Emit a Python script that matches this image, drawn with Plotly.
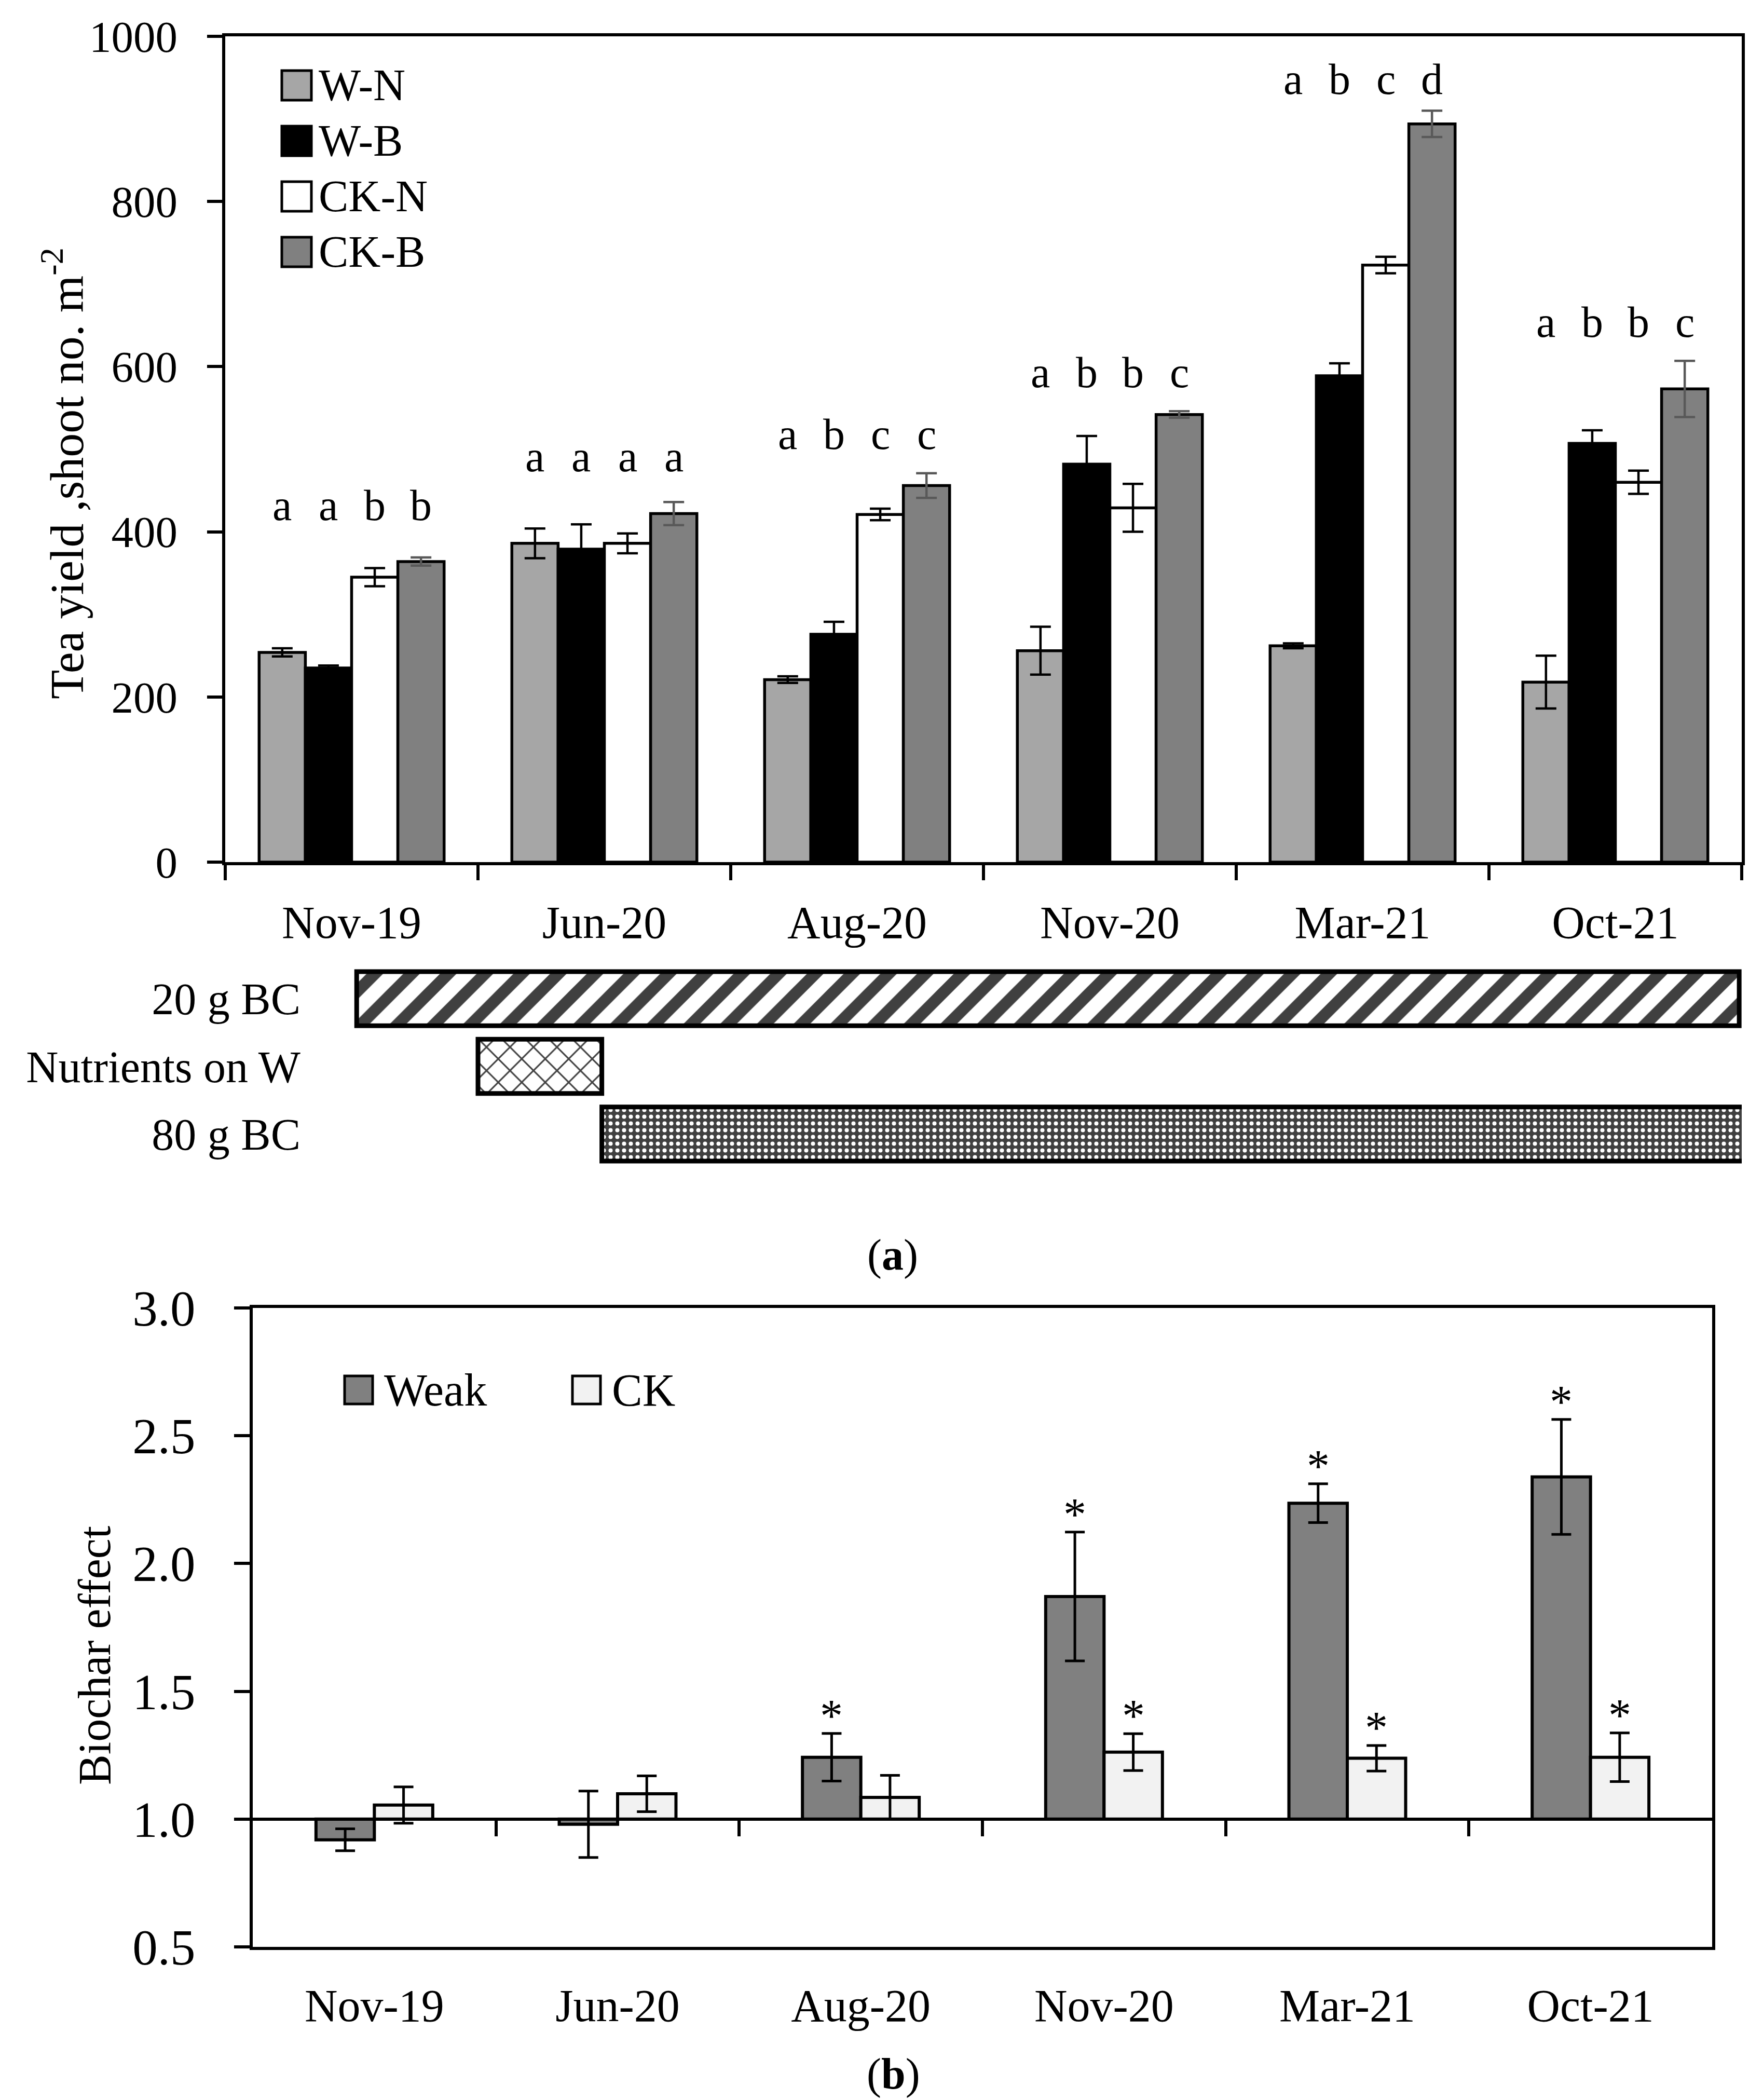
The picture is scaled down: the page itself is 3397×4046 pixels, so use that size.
import plotly.graph_objects as go

W, H = 3397, 4046
FONT = "Liberation Serif"

# ---- data, panel (a) ----
dates = ["Nov-19", "Jun-20", "Aug-20", "Nov-20", "Mar-21", "Oct-21"]
series_a = ["W-N", "W-B", "CK-N", "CK-B"]
wn = [254, 386, 221, 256, 262, 218]
wn_err = [5, 18, 4, 29, 3, 32]
wb = [235, 379, 276, 482, 589, 507]
wb_err = [3, 30, 15, 34, 15, 16]
ckn = [345, 386, 421, 429, 723, 460]
ckn_err = [11, 12, 7, 29, 10, 14]
ckb = [364, 422, 456, 542, 894, 573]
ckb_err = [5, 14, 15, 4, 16, 34]
letters = [["a", "a", "b", "b"], ["a", "a", "a", "a"], ["a", "b", "c", "c"],
           ["a", "b", "b", "c"], ["a", "b", "c", "d"], ["a", "b", "b", "c"]]
letter_y = [432, 491, 518, 593, 948, 654]

# treatment periods (same time scale as panel a)
treat_names = ["20 g BC", "Nutrients on W", "80 g BC"]
treat_start = [0.02, 0.5, 0.99]
treat_end = [5.49, 0.99, 5.51]

# ---- data, panel (b) ----
series_b = ["Weak", "CK"]
weak = [0.919, 0.98, 1.242, 1.871, 2.236, 2.339]
weak_err = [0.043, 0.13, 0.093, 0.252, 0.076, 0.225]
ck = [1.055, 1.099, 1.085, 1.262, 1.238, 1.242]
ck_err = [0.071, 0.07, 0.086, 0.072, 0.05, 0.095]
weak_sig = [False, False, True, True, True, True]
ck_sig = [False, False, False, True, True, True]


def fx(p):
    return p / W


def fy(p):
    return 1 - p / H


n = len(dates)
centers = list(range(n))
bounds = [i - 0.5 for i in range(n + 1)]

fig = go.Figure()

# panel (a) bars
bw = 0.183
offs = [-1.5, -0.5, 0.5, 1.5]
colors_a = ["#A6A6A6", "#000000", "#FFFFFF", "#808080"]
ecolors_a = ["#000000", "#000000", "#000000", "#595959"]
vals_a = [wn, wb, ckn, ckb]
errs_a = [wn_err, wb_err, ckn_err, ckb_err]
for k in range(4):
    fig.add_trace(go.Bar(
        x=[c + offs[k] * bw for c in centers], y=vals_a[k], width=bw, name=series_a[k],
        marker=dict(color=colors_a[k], line=dict(color="black", width=5.5)),
        error_y=dict(type="data", array=errs_a[k], color=ecolors_a[k], thickness=4.5, width=20),
        xaxis="x", yaxis="y", showlegend=False))

for i in range(n):
    for k in range(4):
        fig.add_annotation(x=centers[i] + offs[k] * bw, y=letter_y[i], text=letters[i][k],
                           xref="x", yref="y", showarrow=False, font=dict(size=84))

# treatment timeline
t_style = [
    dict(shape="/", fg="#404040", bg="#FFFFFF", size=50, sol=0.45),
    dict(shape="x", fg="#404040", bg="#FFFFFF", size=32, sol=0.18),
    dict(shape=".", fg="#FFFFFF", bg="#404040", size=13, sol=0.3),
]
for j, name in enumerate(treat_names):
    s = t_style[j]
    fig.add_trace(go.Bar(
        y=[name], x=[treat_end[j] - treat_start[j]], base=[treat_start[j]], orientation="h",
        width=0.8, showlegend=False, xaxis="x3", yaxis="y3",
        marker=dict(color=s["bg"], line=dict(color="black", width=9),
                    pattern=dict(shape=s["shape"], fgcolor=s["fg"], fgopacity=1,
                                 size=s["size"], solidity=s["sol"], fillmode="overlay"))))

# panel (b) bars
bwb = 0.24
colors_b = ["#808080", "#F2F2F2"]
vals_b = [weak, ck]
errs_b = [weak_err, ck_err]
sig_b = [weak_sig, ck_sig]
for k in range(2):
    off = (k - 0.5) * bwb
    fig.add_trace(go.Bar(
        x=[c + off for c in centers], y=[v - 1 for v in vals_b[k]], base=1, width=bwb,
        name=series_b[k], showlegend=False, xaxis="x2", yaxis="y2",
        marker=dict(color=colors_b[k], line=dict(color="black", width=6)),
        error_y=dict(type="data", array=errs_b[k], color="black", thickness=5, width=19)))
    for i in range(n):
        if sig_b[k][i]:
            fig.add_annotation(x=centers[i] + off, y=vals_b[k][i] + errs_b[k][i] + 0.07,
                               text="*", xref="x2", yref="y2", showarrow=False,
                               yanchor="middle", font=dict(size=88))

# dummy trace so the free axis on the 1.0 line is drawn
fig.add_trace(go.Scatter(x=[None], y=[None], xaxis="x5", yaxis="y2", showlegend=False,
                         hoverinfo="skip"))

xa_dom = [fx(426), fx(3348)]
ya_dom = [fy(1653), fy(62)]
xb_dom = [fx(479), fx(3291)]
yb_dom = [fy(3743), fy(2512)]
x3_left = -0.5 + (590 - 426) / ((3348 - 426) / n)
yb_range = [0.5, 3.0]
one_pos = yb_dom[0] + (1.0 - yb_range[0]) / (yb_range[1] - yb_range[0]) * (yb_dom[1] - yb_dom[0])

axis_common = dict(showline=True, linecolor="black", linewidth=6, showgrid=False,
                   zeroline=False, tickcolor="black", tickwidth=6, automargin=False)

fig.update_layout(
    width=W, height=H, margin=dict(l=0, r=0, t=0, b=0, pad=0, autoexpand=False),
    paper_bgcolor="white", plot_bgcolor="rgba(0,0,0,0)",
    barmode="overlay", showlegend=False,
    font=dict(family=FONT, size=85, color="black"),
    xaxis=dict(domain=xa_dom, range=[-0.5, n - 0.5], anchor="y", mirror=True,
               tickmode="array", tickvals=centers, ticktext=dates, ticks="",
               ticklabelstandoff=34, tickfont=dict(size=88),
               minor=dict(tickmode="array", tickvals=bounds, ticks="outside", ticklen=29,
                          tickwidth=6, tickcolor="black", showgrid=False),
               **axis_common),
    yaxis=dict(domain=ya_dom, range=[0, 1000], dtick=200, anchor="x", mirror=True,
               ticks="outside", ticklen=29, ticklabelstandoff=40, tickfont=dict(size=85),
               **axis_common),
    xaxis3=dict(domain=[fx(590), xa_dom[1]], range=[x3_left, n - 0.5], anchor="y3",
                visible=False),
    yaxis3=dict(domain=[fy(2242), fy(1851)], anchor="x3", type="category",
                categoryorder="array", categoryarray=treat_names[::-1],
                showline=False, showgrid=False, zeroline=False, ticks="",
                ticklabelstandoff=18, tickfont=dict(size=86), automargin=False),
    xaxis2=dict(domain=xb_dom, range=[-0.5, n - 0.5], anchor="y2", mirror=True,
                tickmode="array", tickvals=centers, ticktext=dates, ticks="",
                ticklabelstandoff=31, tickfont=dict(size=88), **axis_common),
    xaxis5=dict(overlaying="x2", range=[-0.5, n - 0.5], anchor="free", position=one_pos,
                tickmode="array", tickvals=bounds[1:-1], ticks="outside", ticklen=30,
                showticklabels=False, **axis_common),
    yaxis2=dict(domain=yb_dom, range=yb_range, anchor="x2", mirror=True,
                tickmode="array", tickvals=[0.5, 1.0, 1.5, 2.0, 2.5, 3.0], tickformat=".1f",
                ticks="outside", ticklen=30, ticklabelstandoff=55, tickfont=dict(size=97),
                **axis_common),
)

# axis titles and panel labels
fig.add_annotation(x=fx(114), y=fy(904), xref="paper", yref="paper", showarrow=False,
                   xanchor="center", yanchor="middle", textangle=-90,
                   text="Tea yield ,shoot no. m<sup>-2</sup>", font=dict(size=92))
fig.add_annotation(x=fx(174), y=fy(3182), xref="paper", yref="paper", showarrow=False,
                   xanchor="center", yanchor="middle", textangle=-90,
                   text="Biochar effect", font=dict(size=88))
fig.add_annotation(x=fx(1712), y=fy(2410), xref="paper", yref="paper", showarrow=False,
                   xanchor="center", yanchor="middle", text="(<b>a</b>)", font=dict(size=84))
fig.add_annotation(x=fx(1713), y=fy(3988), xref="paper", yref="paper", showarrow=False,
                   xanchor="center", yanchor="middle", text="(<b>b</b>)", font=dict(size=84))

# legend (a)
for k in range(4):
    top = 128 + 107 * k
    fig.add_shape(type="rect", xref="paper", yref="paper", x0=fx(535), x1=fx(592),
                  y0=fy(top + 57), y1=fy(top), fillcolor=colors_a[k],
                  line=dict(color="black", width=5))
    fig.add_annotation(x=fx(604), y=fy(top + 28), xref="paper", yref="paper",
                       xanchor="left", yanchor="middle", showarrow=False, text=series_a[k],
                       font=dict(size=86))

# legend (b)
leg_b_x = [656, 1095]
for k in range(2):
    x0 = leg_b_x[k]
    fig.add_shape(type="rect", xref="paper", yref="paper", x0=fx(x0), x1=fx(x0 + 54),
                  y0=fy(2697), y1=fy(2643), fillcolor=colors_b[k],
                  line=dict(color="black", width=5))
    fig.add_annotation(x=fx(x0 + 74), y=fy(2670), xref="paper", yref="paper",
                       xanchor="left", yanchor="middle", showarrow=False, text=series_b[k],
                       font=dict(size=88))

fig.write_html("out.html")
